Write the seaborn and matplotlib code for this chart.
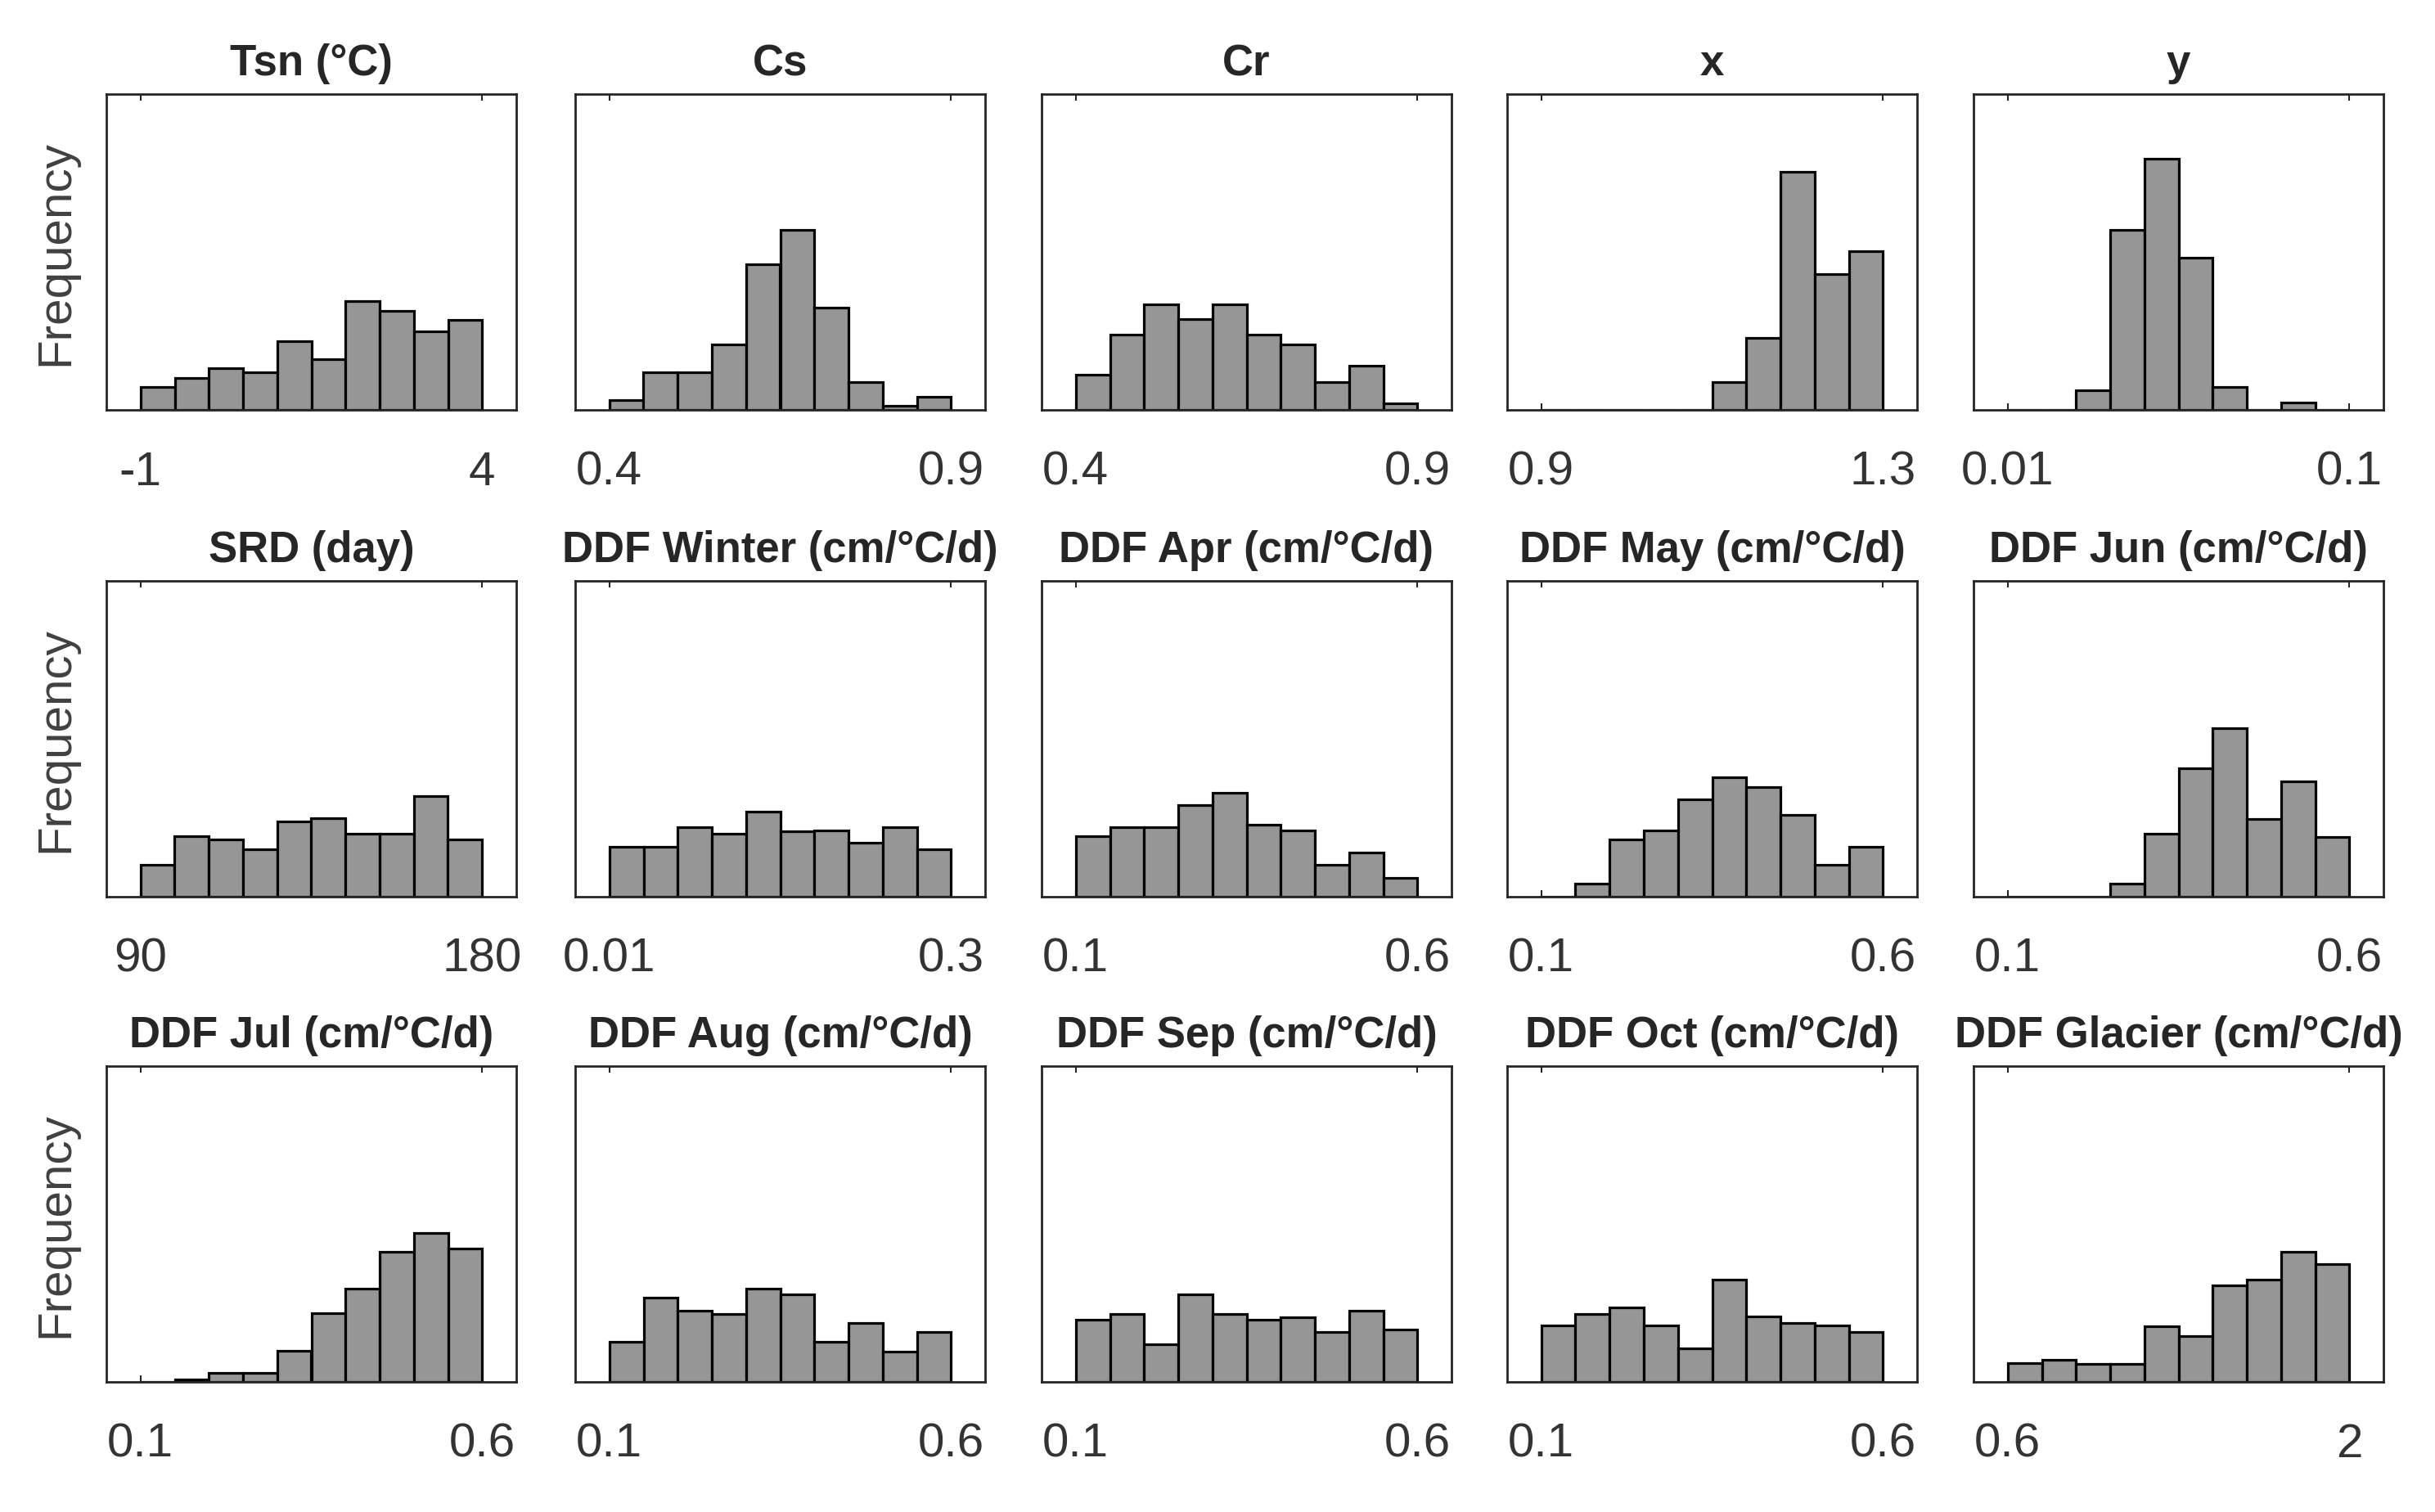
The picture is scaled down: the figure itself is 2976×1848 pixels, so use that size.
import matplotlib
matplotlib.use("Agg")
import matplotlib.pyplot as plt
import numpy as np
import pandas as pd
import seaborn as sns

# panel titles and the two labelled ticks (first / last bin edge)
titles = ["Tsn (°C)", "Cs", "Cr", "x", "y",
          "SRD (day)", "DDF Winter (cm/°C/d)", "DDF Apr (cm/°C/d)",
          "DDF May (cm/°C/d)", "DDF Jun (cm/°C/d)",
          "DDF Jul (cm/°C/d)", "DDF Aug (cm/°C/d)", "DDF Sep (cm/°C/d)",
          "DDF Oct (cm/°C/d)", "DDF Glacier (cm/°C/d)"]
range_lo = [-1, 0.4, 0.4, 0.9, 0.01, 90, 0.01, 0.1, 0.1, 0.1, 0.1, 0.1, 0.1, 0.1, 0.6]
range_hi = [4, 0.9, 0.9, 1.3, 0.1, 180, 0.3, 0.6, 0.6, 0.6, 0.6, 0.6, 0.6, 0.6, 2]
lo_labels = ["-1", "0.4", "0.4", "0.9", "0.01", "90", "0.01", "0.1", "0.1", "0.1",
             "0.1", "0.1", "0.1", "0.1", "0.6"]
hi_labels = ["4", "0.9", "0.9", "1.3", "0.1", "180", "0.3", "0.6", "0.6", "0.6",
             "0.6", "0.6", "0.6", "0.6", "2"]

# frequency in each of the 10 bins (relative scale, axis top = 100)
tsn = [7.2, 10.1, 13.1, 11.9, 21.8, 16.0, 34.5, 31.4, 24.8, 28.5]
cs = [3.1, 11.9, 11.9, 20.7, 46.2, 56.9, 32.4, 8.8, 1.3, 4.1]
cr = [11.1, 23.8, 33.5, 28.7, 33.5, 23.8, 20.7, 8.8, 14.0, 2.2]
x_exp = [0, 0, 0, 0, 0, 8.8, 22.8, 75.3, 43.1, 50.3]
y_exp = [0, 0, 6.2, 57.1, 79.6, 48.3, 7.2, 0, 2.3, 0]
srd = [10.0, 19.1, 18.1, 14.9, 23.9, 24.9, 19.9, 19.9, 31.9, 18.1]
ddf_winter = [15.9, 15.9, 21.9, 19.9, 26.9, 20.7, 20.9, 17.1, 21.9, 15.1]
ddf_apr = [19.1, 21.9, 21.9, 28.9, 32.9, 22.9, 21.1, 10.0, 13.9, 6.0]
ddf_may = [0, 4.2, 18.1, 21.1, 30.7, 37.8, 34.7, 25.9, 10.0, 15.9]
ddf_jun = [0, 0, 0, 4.2, 19.9, 40.8, 53.4, 24.7, 36.5, 18.9]
ddf_jul = [0, 0.8, 2.9, 2.9, 9.8, 21.8, 29.5, 41.2, 47.1, 42.3]
ddf_aug = [12.6, 26.6, 22.6, 21.5, 29.5, 27.6, 12.6, 18.6, 9.6, 15.7]
ddf_sep = [19.7, 21.5, 11.9, 27.6, 21.5, 19.7, 20.5, 15.7, 22.6, 16.5]
ddf_oct = [17.8, 21.5, 23.6, 17.8, 10.5, 32.4, 20.7, 18.6, 17.8, 15.7]
ddf_glacier = [5.9, 6.9, 5.6, 5.6, 17.6, 14.6, 30.5, 32.4, 41.2, 37.2]

freqs = [tsn, cs, cr, x_exp, y_exp, srd, ddf_winter, ddf_apr, ddf_may, ddf_jun,
         ddf_jul, ddf_aug, ddf_sep, ddf_oct, ddf_glacier]

sns.set_style("white")
plt.rcParams["font.family"] = ["Liberation Sans", "DejaVu Sans"]

W, H = 2976, 1849
fig = plt.figure(figsize=(W / 100, H / 100), dpi=100)

col_left = [130, 703, 1273, 1842, 2412]
row_top = [116, 711, 1304]
ax_w, ax_h = 501, 386

for i in range(15):
    r, c = divmod(i, 5)
    ax = fig.add_axes([col_left[c] / W, 1 - (row_top[r] + ax_h) / H, ax_w / W, ax_h / H])
    lo, hi = range_lo[i], range_hi[i]
    edges = np.linspace(lo, hi, 11)
    df = pd.DataFrame({"value": (edges[:-1] + edges[1:]) / 2, "freq": freqs[i]})
    # bins as a list: seaborn compares bins to "auto" when weights are given
    sns.histplot(data=df, x="value", weights="freq", bins=edges.tolist(), ax=ax,
                 color="#969696", edgecolor="black", linewidth=2.3, alpha=1)
    span = hi - lo
    ax.set_xlim(lo - 0.1 * span, hi + 0.1 * span)
    ax.set_ylim(0, 100)
    ax.set_xticks([lo, hi])
    ax.set_xticklabels([lo_labels[i], hi_labels[i]])
    ax.set_yticks([])
    ax.tick_params(axis="x", direction="in", top=True, bottom=True, length=6,
                   width=1.5, pad=35, labelsize=42, labelcolor="#333333", color="#262626")
    for s in ax.spines.values():
        s.set_visible(True)
        s.set_color("#262626")
        s.set_linewidth(2)
    ax.set_title(titles[i], fontsize=38, fontweight="bold", pad=17)
    ax.set_xlabel("")
    if c == 0:
        ax.set_ylabel("Frequency", fontsize=42, color="#404040")
        ax.yaxis.set_label_coords(-0.07, 0.5)
    else:
        ax.set_ylabel("")

fig.savefig("out.png", dpi=100)
